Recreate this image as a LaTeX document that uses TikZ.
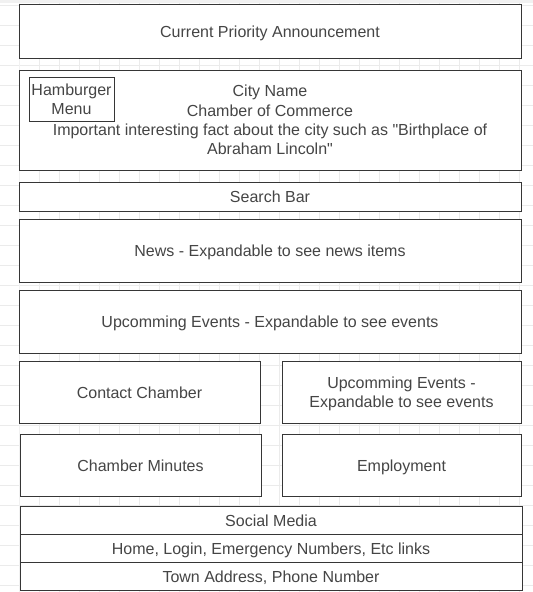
\documentclass[tikz,border=0pt]{standalone}
\usepackage{fontspec}
\setmainfont{Liberation Sans}
\usetikzlibrary{positioning}
\definecolor{edgegray}{HTML}{363636}
\definecolor{textgray}{HTML}{454545}
\definecolor{gridgray}{HTML}{EBEBEB}

\begin{document}
\begin{tikzpicture}[x=1pt, y=-1pt,
  box/.style={draw=edgegray, line width=1pt, fill=white, text=textgray, align=center, inner sep=0pt, font=\fontsize{16}{19.3}\selectfont},
  oneline/.style={box, text height=13.6pt, text depth=1.3pt},
  wide/.style={oneline, minimum width=502pt}]

  % Page and grid
  \fill[white] (0,0) rectangle (533,592);
  \useasboundingbox (0,0) rectangle (533,592);
  \foreach \gy in {5,25,...,585}
    \draw[gridgray, line width=0.8pt] (0,\gy) -- (533,\gy);
  \foreach \gx in {39,59,...,530}
    \draw[gridgray, line width=0.8pt] (\gx,0) -- (\gx,592);
  \draw[gridgray!80!black!20, line width=1pt] (19,0) -- (19,592);
  \fill[gridgray!70!black!15] (0,0) rectangle (533,3);

  % Header
  \node[wide, minimum height=54pt] (announce) at (270,31) {Current Priority Announcement};
  \node[box, minimum width=502pt, minimum height=100pt] (city) at (270,120) {City Name\\Chamber of Commerce\\Important interesting fact about the city such as \textquotedbl Birthplace of\\Abraham Lincoln\textquotedbl};
  \node[box, minimum width=85pt, minimum height=44pt] (menu) at (71.5,99) {Hamburger\\Menu};
  \node[wide, minimum height=29pt] (search) at (270,196.5) {Search Bar};

  % Expandable rows
  \node[wide, minimum height=63pt] (news) at (270,250.5) {News - Expandable to see news items};
  \node[wide, minimum height=63pt] (events) at (270,321.5) {Upcomming Events - Expandable to see events};

  % Two columns
  \node[oneline, minimum width=241pt, minimum height=62pt] (contact) at (139.5,392) {Contact Chamber};
  \node[box, minimum width=239pt, minimum height=62pt, text height=32.9pt, text depth=1.3pt] (eventsR) at (401.5,392) {Upcomming Events -\\Expandable to see events};
  \node[oneline, minimum width=241pt, minimum height=62pt] (minutes) at (140.5,465) {Chamber Minutes};
  \node[oneline, minimum width=239pt, minimum height=62pt] (employ) at (401.5,465) {Employment};

  % Footer
  \node[wide, minimum height=28pt] (social) at (271,520) {Social Media};
  \node[wide, minimum height=28pt] (links) at (271,548) {Home, Login, Emergency Numbers, Etc links};
  \node[wide, minimum height=28pt] (address) at (271,576) {Town Address, Phone Number};

\end{tikzpicture}
\end{document}
